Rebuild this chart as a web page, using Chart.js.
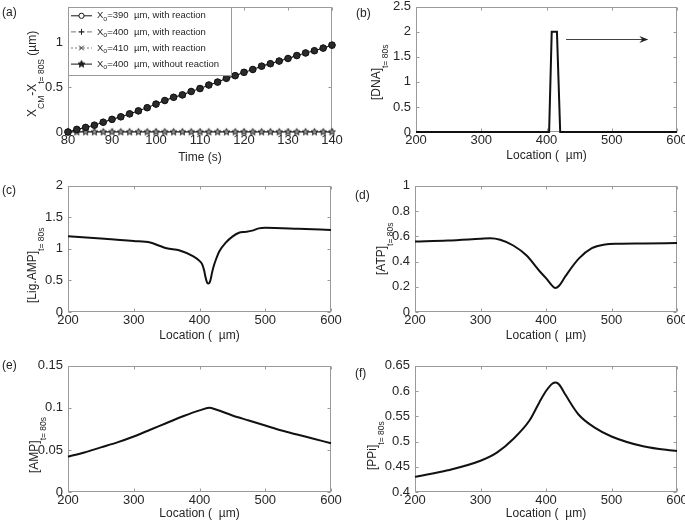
<!DOCTYPE html>
<html>
<head>
<meta charset="utf-8">
<script src="https://cdn.jsdelivr.net/npm/chart.js@4.4.0/dist/chart.umd.min.js"></script>
<style>
  html, body { margin: 0; padding: 0; background: #fff; overflow: hidden; width: 685px; height: 521px; }
  canvas { position: absolute; }
  .tag { position: absolute; font: 12px "Liberation Sans", Arial, sans-serif; color: #222; line-height: 14px; }
</style>
</head>
<body>
<canvas id="pa"></canvas>
<canvas id="pb"></canvas>
<canvas id="pc"></canvas>
<canvas id="pd"></canvas>
<canvas id="pe"></canvas>
<canvas id="pf"></canvas>
<div class="tag" style="left:2px;top:5px">(a)</div>
<div class="tag" style="left:356px;top:6px">(b)</div>
<div class="tag" style="left:2px;top:183px">(c)</div>
<div class="tag" style="left:355px;top:188px">(d)</div>
<div class="tag" style="left:2px;top:358px">(e)</div>
<div class="tag" style="left:355px;top:366px">(f)</div>
<script>
"use strict";

// (a) centre of mass shift vs time
const timeA = [80, 82, 84, 86, 88, 90, 92, 94, 96, 98, 100, 102, 104, 106, 108, 110,
  112, 114, 116, 118, 120, 122, 124, 126, 128, 130, 132, 134, 136, 138, 140];
const disp390 = [0, 0.029, 0.051, 0.076, 0.109, 0.141, 0.170, 0.203, 0.236, 0.272, 0.312,
  0.352, 0.388, 0.415, 0.453, 0.486, 0.525, 0.558, 0.600, 0.630, 0.667, 0.699, 0.736,
  0.764, 0.793, 0.822, 0.855, 0.884, 0.909, 0.938, 0.971];
const disp400 = disp390;
const disp410 = disp390;
const dispNoReaction = [0, 0, 0, 0, 0, 0, 0, 0, 0, 0, 0, 0, 0, 0, 0, 0,
  0, 0, 0, 0, 0, 0, 0, 0, 0, 0, 0, 0, 0, 0, 0];
const legendA = ["=390  µm, with reaction", "=400  µm, with reaction",
  "=410  µm, with reaction", "=400  µm, without reaction"];

// (b) DNA
const locDna = [200, 404, 408, 416, 421, 600];
const dna = [0, 0, 2, 2, 0, 0];
const arrowFrom = [430, 1.86];
const arrowTo = [556, 1.86];

// (c) Lig.AMP
const locLig = [200, 250, 300, 325, 340, 350, 370, 390, 400, 404, 407, 409, 411, 413, 415,
  417, 419, 422, 426, 430, 440, 450, 460, 470, 480, 490, 500, 550, 600];
const ligAmp = [1.2, 1.165, 1.125, 1.1, 1.045, 1.01, 0.975, 0.885, 0.81, 0.76, 0.66, 0.56,
  0.48, 0.45, 0.46, 0.52, 0.62, 0.74, 0.86, 0.96, 1.1, 1.195, 1.255, 1.27, 1.29, 1.325,
  1.335, 1.32, 1.3];

// (d) ATP
const locAtp = [200, 250, 300, 315, 330, 350, 370, 390, 400, 410, 414, 420, 430, 450, 470,
  490, 510, 550, 600];
const atp = [0.558, 0.566, 0.58, 0.584, 0.572, 0.527, 0.449, 0.325, 0.268, 0.205, 0.19,
  0.208, 0.286, 0.423, 0.506, 0.535, 0.541, 0.543, 0.547];

// (e) AMP
const locAmp = [200, 225, 250, 275, 300, 325, 350, 375, 400, 415, 425, 450, 475, 500, 525,
  550, 575, 600];
const amp = [0.042, 0.047, 0.053, 0.059, 0.066, 0.074, 0.082, 0.09, 0.097, 0.1, 0.098,
  0.091, 0.085, 0.079, 0.073, 0.068, 0.063, 0.058];

// (f) PPi
const locPpi = [200, 250, 300, 325, 350, 375, 390, 400, 410, 415, 420, 430, 450, 475, 500,
  550, 600];
const ppi = [0.43, 0.443, 0.462, 0.478, 0.505, 0.542, 0.578, 0.6, 0.615, 0.617, 0.613,
  0.592, 0.553, 0.527, 0.51, 0.49, 0.481];

const FONT = "'Liberation Sans', Arial, sans-serif";
const TEXT = "#262626";
const FRAME = "#9a9a9a";
const PAD_TOP = 10;
const PAD_RIGHT = 14;
const X_AXIS_H = 36;

function pairs(xs, ys) {
  return xs.map((x, i) => ({ x: x, y: ys[i] }));
}

function makeStar(r, fill) {
  const c = document.createElement("canvas");
  const s = Math.ceil(r * 2 + 3);
  c.width = s;
  c.height = s;
  const g = c.getContext("2d");
  g.beginPath();
  for (let i = 0; i < 10; i++) {
    const rad = i % 2 ? r * 0.45 : r;
    const ang = -Math.PI / 2 + i * Math.PI / 5;
    g.lineTo(s / 2 + rad * Math.cos(ang), s / 2 + rad * Math.sin(ang));
  }
  g.closePath();
  g.fillStyle = fill;
  g.fill();
  g.strokeStyle = "#111";
  g.lineWidth = 0.9;
  g.stroke();
  return c;
}
const star = makeStar(3.6, "#999");
const legendStar = makeStar(3.6, "#222");

// draws text pieces, second flag = subscript
function drawSegs(ctx, segs, x, y, size, subSize, subDy) {
  ctx.textAlign = "left";
  ctx.textBaseline = "middle";
  let cx = x;
  for (const [t, sub] of segs) {
    ctx.font = (sub ? subSize : size) + "px " + FONT;
    ctx.fillText(t, cx, sub ? y + subDy : y);
    cx += ctx.measureText(t).width;
  }
}

const boxPlugin = {
  id: "box",
  beforeDatasetsDraw(chart, args, opts) {
    const { ctx, chartArea: a, scales } = chart;
    const l = Math.round(a.left) + 0.5, r = Math.round(a.right) - 0.5;
    const t = Math.round(a.top) + 0.5, b = Math.round(a.bottom) - 0.5;
    ctx.save();
    ctx.strokeStyle = FRAME;
    ctx.lineWidth = 1;
    ctx.strokeRect(l, t, r - l, b - t);
    ctx.beginPath();
    for (const tk of scales.x.ticks) {
      const px = Math.round(scales.x.getPixelForValue(tk.value)) + 0.5;
      ctx.moveTo(px, b); ctx.lineTo(px, b - 3);
      ctx.moveTo(px, t); ctx.lineTo(px, t + 3);
    }
    for (const tk of scales.y.ticks) {
      const py = Math.round(scales.y.getPixelForValue(tk.value)) + 0.5;
      ctx.moveTo(l, py); ctx.lineTo(l + 3, py);
      ctx.moveTo(r, py); ctx.lineTo(r - 3, py);
    }
    ctx.stroke();
    ctx.restore();
  },
  afterDatasetsDraw(chart, args, opts) {
    const { ctx, chartArea: a, scales } = chart;
    ctx.save();
    ctx.fillStyle = TEXT;
    // x title
    ctx.font = "12px " + FONT;
    ctx.textAlign = "center";
    ctx.textBaseline = "middle";
    ctx.fillText(opts.xTitle, (a.left + a.right) / 2, a.bottom + opts.xGap);
    // y title, rotated, with subscripts
    ctx.save();
    ctx.translate(a.left - opts.yDx, a.bottom - opts.yStart);
    ctx.rotate(-Math.PI / 2);
    drawSegs(ctx, opts.yTitle, 0, 0, 12, 8.5, 9);
    ctx.restore();

    if (opts.arrow) {
      const x1 = scales.x.getPixelForValue(opts.arrow[0][0]);
      const x2 = scales.x.getPixelForValue(opts.arrow[1][0]);
      const y = Math.round(scales.y.getPixelForValue(opts.arrow[0][1])) + 0.5;
      ctx.strokeStyle = "#444";
      ctx.lineWidth = 1;
      ctx.beginPath();
      ctx.moveTo(x1, y); ctx.lineTo(x2 - 4, y);
      ctx.stroke();
      ctx.fillStyle = "#222";
      ctx.beginPath();
      ctx.moveTo(x2, y); ctx.lineTo(x2 - 9, y - 3.5); ctx.lineTo(x2 - 6, y); ctx.lineTo(x2 - 9, y + 3.5);
      ctx.closePath();
      ctx.fill();
    }

    if (opts.legend) {
      const bw = 163, bh = 68;
      const lx = Math.round(a.left) + 0.5, ly = Math.round(a.top) + 0.5;
      ctx.fillStyle = "#fff";
      ctx.fillRect(lx, ly, bw, bh);
      ctx.strokeStyle = FRAME;
      ctx.lineWidth = 1;
      ctx.strokeRect(lx, ly, bw, bh);
      chart.data.datasets.forEach((ds, i) => {
        const ry = a.top + 9 + i * 16.1;
        ctx.save();
        ctx.strokeStyle = ds.borderColor;
        ctx.lineWidth = 1;
        ctx.setLineDash(ds.borderDash || []);
        ctx.beginPath();
        ctx.moveTo(a.left + 3, ry); ctx.lineTo(a.left + 24, ry);
        ctx.stroke();
        ctx.setLineDash([]);
        const mx = a.left + 13.5;
        if (ds.pointStyle === "circle") {
          ctx.fillStyle = "#fff";
          ctx.strokeStyle = "#111";
          ctx.beginPath();
          ctx.arc(mx, ry, 2.6, 0, Math.PI * 2);
          ctx.fill(); ctx.stroke();
        } else if (ds.pointStyle === "cross") {
          ctx.strokeStyle = "#222";
          ctx.beginPath();
          ctx.moveTo(mx - 3, ry); ctx.lineTo(mx + 3, ry);
          ctx.moveTo(mx, ry - 3); ctx.lineTo(mx, ry + 3);
          ctx.stroke();
        } else if (ds.pointStyle === "crossRot") {
          ctx.strokeStyle = "#222";
          ctx.beginPath();
          ctx.moveTo(mx - 2.3, ry - 2.3); ctx.lineTo(mx + 2.3, ry + 2.3);
          ctx.moveTo(mx - 2.3, ry + 2.3); ctx.lineTo(mx + 2.3, ry - 2.3);
          ctx.stroke();
        } else {
          ctx.drawImage(legendStar, mx - legendStar.width / 2, ry - legendStar.height / 2);
        }
        ctx.fillStyle = TEXT;
        drawSegs(ctx, [["X", 0], ["o", 1], [ds.label, 0]], a.left + 29, ry, 9.5, 7, 3);
        ctx.restore();
      });
    }
    ctx.restore();
  }
};

function numLabel(v) {
  return String(+v.toFixed(4));
}

function curve(xs, ys) {
  return [{
    data: pairs(xs, ys),
    borderColor: "#111",
    borderWidth: 2,
    pointRadius: 0,
    cubicInterpolationMode: "monotone",
    clip: false
  }];
}

const panels = [
  {
    id: "pa", colLeft: 0, plot: [68, 4, 332, 132],
    x: [80, 140, 10], y: [0, 1.4, 0.5],
    box: { xTitle: "Time (s)", xGap: 26, yDx: 35, yStart: 15, legend: true,
      yTitle: [["X", 0], ["CM", 1], ["-X", 0], ["t= 80S", 1], [" (µm)", 0]] },
    datasets: [
      { label: legendA[0], data: pairs(timeA, disp390), borderColor: "#111", borderWidth: 1,
        pointStyle: "circle", pointRadius: 3.3, pointBorderWidth: 1, pointBorderColor: "#111",
        pointBackgroundColor: "#2a2a2a", clip: false },
      { label: legendA[1], data: pairs(timeA, disp400), borderColor: "#777", borderWidth: 1,
        borderDash: [5, 3], pointStyle: "cross", pointRadius: 3.5, pointBorderWidth: 1,
        pointBorderColor: "#111", clip: false },
      { label: legendA[2], data: pairs(timeA, disp410), borderColor: "#777", borderWidth: 1,
        borderDash: [2, 2], pointStyle: "crossRot", pointRadius: 3.5, pointBorderWidth: 1,
        pointBorderColor: "#111", clip: false },
      { label: legendA[3], data: pairs(timeA, dispNoReaction), borderColor: "#111", borderWidth: 1,
        pointStyle: star, pointRadius: 4, clip: false }
    ]
  },
  {
    id: "pb", colLeft: 343, plot: [416, 4, 677, 132],
    x: [200, 600, 100], y: [0, 2.5, 0.5],
    box: { xTitle: "Location (  µm)", xGap: 24, yDx: 39, yStart: 32, arrow: [arrowFrom, arrowTo],
      yTitle: [["[DNA]", 0], ["t= 80s", 1]] },
    datasets: [{ data: pairs(locDna, dna), borderColor: "#111", borderWidth: 2, pointRadius: 0,
      tension: 0, clip: false }]
  },
  {
    id: "pc", colLeft: 0, plot: [68, 183, 331, 312],
    x: [200, 600, 100], y: [0, 2, 0.5],
    box: { xTitle: "Location (  µm)", xGap: 24, yDx: 35, yStart: 9,
      yTitle: [["[Lig.AMP]", 0], ["t= 80s", 1]] },
    datasets: curve(locLig, ligAmp)
  },
  {
    id: "pd", colLeft: 343, plot: [415, 183, 677, 312],
    x: [200, 600, 100], y: [0, 1, 0.2],
    box: { xTitle: "Location (  µm)", xGap: 24, yDx: 33, yStart: 37,
      yTitle: [["[ATP]", 0], ["t= 80s", 1]] },
    datasets: curve(locAtp, atp)
  },
  {
    id: "pe", colLeft: 0, plot: [68, 363, 331, 492],
    x: [200, 600, 100], y: [0, 0.15, 0.05],
    box: { xTitle: "Location (  µm)", xGap: 22, yDx: 33, yStart: 19,
      yTitle: [["[AMP]", 0], ["t= 80s", 1]] },
    datasets: curve(locAmp, amp)
  },
  {
    id: "pf", colLeft: 343, plot: [415, 363, 677, 492],
    x: [200, 600, 100], y: [0.4, 0.65, 0.05],
    box: { xTitle: "Location (  µm)", xGap: 22, yDx: 42, yStart: 22,
      yTitle: [["[PPi]", 0], ["t= 80s", 1]] },
    datasets: curve(locPpi, ppi)
  }
];

function makeChart(p) {
  const canvas = document.getElementById(p.id);
  const cLeft = p.colLeft;
  const cTop = p.plot[1] - PAD_TOP;
  const w = p.plot[2] + PAD_RIGHT - cLeft;
  const h = p.plot[3] + X_AXIS_H - cTop;
  canvas.width = w;
  canvas.height = h;
  canvas.style.left = cLeft + "px";
  canvas.style.top = cTop + "px";
  canvas.style.width = w + "px";
  canvas.style.height = h + "px";
  const yW = p.plot[0] - cLeft;
  const tickFont = { family: FONT, size: 13 };

  return new Chart(canvas, {
    type: "line",
    data: { datasets: p.datasets },
    options: {
      responsive: false,
      animation: false,
      devicePixelRatio: 1,
      layout: { padding: { top: PAD_TOP, right: PAD_RIGHT, left: 0, bottom: 0 } },
      plugins: { legend: { display: false }, tooltip: { enabled: false }, box: p.box },
      scales: {
        x: {
          type: "linear", min: p.x[0], max: p.x[1],
          ticks: { stepSize: p.x[2], padding: 1, maxRotation: 0, autoSkip: false,
            includeBounds: false, font: tickFont, color: TEXT, callback: numLabel },
          grid: { display: false, drawTicks: false },
          border: { display: false },
          afterFit(s) { s.height = X_AXIS_H; }
        },
        y: {
          type: "linear", min: p.y[0], max: p.y[1],
          ticks: { stepSize: p.y[2], padding: 5, autoSkip: false, includeBounds: false,
            font: tickFont, color: TEXT, callback: numLabel },
          grid: { display: false, drawTicks: false },
          border: { display: false },
          afterFit(s) { s.width = yW; }
        }
      }
    },
    plugins: [boxPlugin]
  });
}

panels.forEach(makeChart);
</script>
</body>
</html>
